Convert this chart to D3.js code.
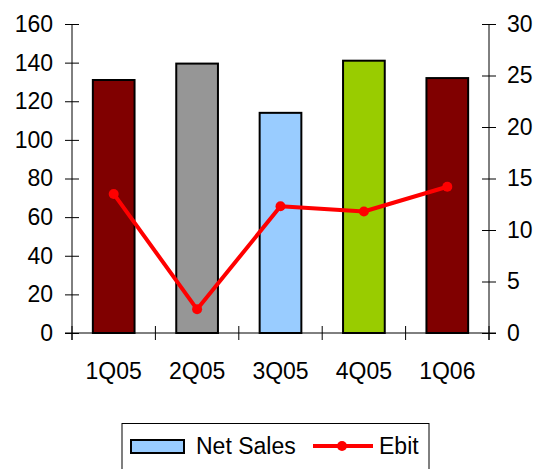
<!DOCTYPE html>
<html>
<head>
<meta charset="utf-8">
<script src="https://cdn.jsdelivr.net/npm/d3@7"></script>
<style>
  body { margin: 0; background: #fff; }
  text { font-family: "Liberation Sans", Arial, sans-serif; fill: #000; }
</style>
</head>
<body>
<svg width="539" height="469"></svg>
<script>
const categories = ["1Q05", "2Q05", "3Q05", "4Q05", "1Q06"];
const netSales = [131, 139.5, 114, 141, 132];
const ebit = [13.5, 2.3, 12.3, 11.8, 14.2];
const barColors = ["#800000", "#969696", "#99ccff", "#99cc00", "#800000"];
const leftTicks = [0, 20, 40, 60, 80, 100, 120, 140, 160];
const rightTicks = [0, 5, 10, 15, 20, 25, 30];

const svg = d3.select("svg"),
  margin = { top: 24, right: 50, bottom: 136, left: 72 },
  width = +svg.attr("width") - margin.left - margin.right,
  height = +svg.attr("height") - margin.top - margin.bottom;

const g = svg.append("g").attr("transform", `translate(${margin.left},${margin.top})`);

const x = d3.scaleBand().domain(categories).range([0, width]).paddingInner(0.5).paddingOuter(0.25);
const yLeft = d3.scaleLinear().domain([0, 160]).range([height, 0]);
const yRight = d3.scaleLinear().domain([0, 30]).range([height, 0]);

// bars
g.selectAll("rect.bar")
  .data(netSales)
  .join("rect")
  .attr("class", "bar")
  .attr("x", (d, i) => x(categories[i]))
  .attr("y", d => yLeft(d))
  .attr("width", x.bandwidth())
  .attr("height", d => height - yLeft(d))
  .attr("fill", (d, i) => barColors[i])
  .attr("stroke", "#000")
  .attr("stroke-width", 2);

// axes
const font = "23px";
const left = g.append("g")
  .call(d3.axisLeft(yLeft).tickValues(leftTicks).tickSize(7));
left.selectAll(".tick line").attr("x2", -7).attr("x1", 7);
left.select(".domain").attr("d", `M0,0V${height + 7}`);
left.selectAll("text").style("font-size", font).attr("x", -19);

const right = g.append("g").attr("transform", `translate(${width},0)`)
  .call(d3.axisRight(yRight).tickValues(rightTicks).tickSize(7));
right.selectAll(".tick line").attr("x1", -7).attr("x2", 7);
right.select(".domain").attr("d", `M0,0V${height + 7}`);
right.selectAll("text").style("font-size", font).attr("x", 18);

const bottom = g.append("g").attr("transform", `translate(0,${height})`)
  .call(d3.axisBottom(x).tickSize(0).tickPadding(30));
bottom.select(".domain").attr("d", `M-7,0H${width + 7}`).attr("stroke", "#000");
bottom.selectAll("text").style("font-size", font);
const bounds = d3.range(categories.length + 1).map(i => i * x.step());
bottom.selectAll("line.sep")
  .data(bounds)
  .join("line")
  .attr("class", "sep")
  .attr("x1", d => d).attr("x2", d => d)
  .attr("y1", -7).attr("y2", 7)
  .attr("stroke", "#000");

// Ebit line
const cx = (d, i) => x(categories[i]) + x.bandwidth() / 2;
g.append("path")
  .datum(ebit)
  .attr("fill", "none")
  .attr("stroke", "#ff0000")
  .attr("stroke-width", 4)
  .attr("stroke-linejoin", "round")
  .attr("d", d3.line().x(cx).y(d => yRight(d)));
g.selectAll("circle.pt")
  .data(ebit)
  .join("circle")
  .attr("class", "pt")
  .attr("cx", cx)
  .attr("cy", d => yRight(d))
  .attr("r", 5)
  .attr("fill", "#ff0000");

// legend
const lg = svg.append("g");
lg.append("rect").attr("x", 122).attr("y", 423.5).attr("width", 307).attr("height", 60)
  .attr("fill", "#fff").attr("stroke", "#000").attr("stroke-width", 1);
lg.append("rect").attr("x", 131).attr("y", 440).attr("width", 53).attr("height", 13)
  .attr("fill", "#99ccff").attr("stroke", "#000").attr("stroke-width", 2);
lg.append("text").attr("x", 196).attr("y", 446).attr("dy", "0.35em").style("font-size", font).text("Net Sales");
lg.append("line").attr("x1", 313).attr("x2", 373).attr("y1", 446).attr("y2", 446)
  .attr("stroke", "#ff0000").attr("stroke-width", 4);
lg.append("circle").attr("cx", 342).attr("cy", 446).attr("r", 5).attr("fill", "#ff0000");
lg.append("text").attr("x", 379).attr("y", 446).attr("dy", "0.35em").style("font-size", font).text("Ebit");
</script>
</body>
</html>
